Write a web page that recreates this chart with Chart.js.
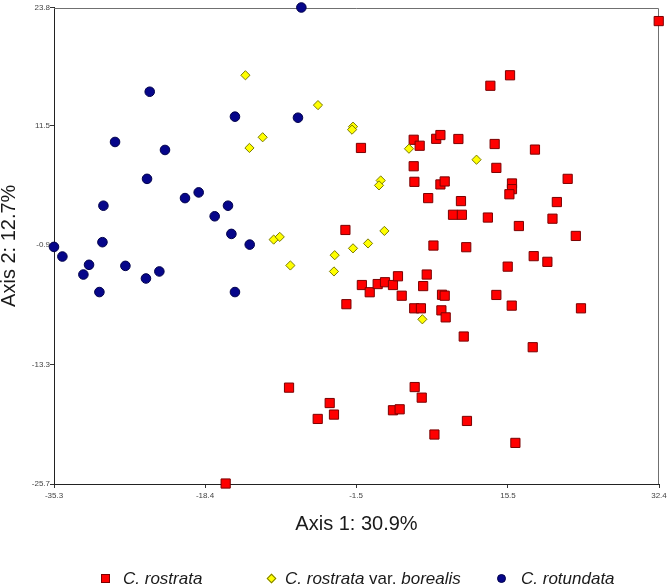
<!DOCTYPE html>
<html>
<head>
<meta charset="utf-8">
<title>Axis 1 / Axis 2 ordination</title>
<script src="https://cdn.jsdelivr.net/npm/chart.js@4/dist/chart.umd.min.js"></script>
<style>
    html, body { margin: 0; padding: 0; background: #fff; }
    #wrap { position: relative; width: 667px; height: 587px; overflow: hidden; }
    #chart { position: absolute; left: 0; top: 0; }
    .lg-text {
        position: absolute;
        top: 570px;
        font: italic 17px "Liberation Sans", Arial, sans-serif;
        line-height: 17px;
        color: #1a1a1a;
        white-space: nowrap;
    }
    .lg-text .up { font-style: normal; }
    .mk { position: absolute; box-sizing: border-box; }
    .mk--sq { left: 101px; top: 574px; width: 9px; height: 9px; background: #ff0000; border: 1px solid #7b0000; }
    .mk--dia { left: 268px; top: 575px; width: 7px; height: 7px; background: #ffff00; border: 1px solid #7a7a00; transform: rotate(45deg); }
    .mk--dot { left: 497px; top: 574px; width: 9px; height: 9px; background: #06068a; border: 1px solid #00004a; border-radius: 50%; }
</style>
</head>
<body>
<div id="wrap">
    <canvas id="chart" width="667" height="587"></canvas>
    <span class="mk mk--sq"></span>
    <span class="lg-text" style="left:123px">C. rostrata</span>
    <span class="mk mk--dia"></span>
    <span class="lg-text" style="left:285px">C. rostrata <span class="up">var.</span> borealis</span>
    <span class="mk mk--dot"></span>
    <span class="lg-text" style="left:521px">C. rotundata</span>
</div>
<script>
(function () {
    "use strict";

    // axis ticks as printed on the plot
    const xTicks = [-35.3, -18.4, -1.5, 15.5, 32.4];
    const yTicks = [-25.7, -13.3, -0.9, 11.5, 23.8];

    // C. rostrata (red squares)
    const rostrata = [
        [32.37, 22.39], [15.73, 16.76], [13.53, 15.67], [4.95, 10.06], [5.62, 9.44],
        [7.47, 10.16], [7.94, 10.55], [9.95, 10.14], [14.01, 9.62], [18.52, 9.04],
        [-0.95, 9.21], [4.95, 7.31], [14.20, 7.14], [22.18, 6.00], [5.03, 5.69],
        [7.94, 5.42], [8.42, 5.73], [15.95, 5.52], [15.95, 4.93], [15.66, 4.40],
        [6.57, 4.00], [10.24, 3.69], [20.97, 3.59], [9.35, 2.27], [10.34, 2.27],
        [13.25, 1.98], [20.48, 1.86], [16.72, 1.10], [-2.69, 0.69], [23.09, 0.07],
        [7.16, -0.93], [10.83, -1.10], [15.47, -3.12], [18.38, -2.03], [19.91, -2.62],
        [-0.85, -5.03], [0.03, -5.78], [0.92, -4.93], [1.74, -4.74], [2.63, -5.03],
        [3.19, -4.12], [3.61, -6.14], [6.41, -3.94], [6.01, -5.14], [8.12, -6.04],
        [8.42, -6.14], [14.20, -6.06], [15.92, -7.17], [23.67, -7.45], [-2.58, -7.02],
        [5.01, -7.45], [5.76, -7.45], [8.05, -7.66], [8.53, -8.39], [10.55, -10.38],
        [18.27, -11.49], [5.06, -15.63], [5.85, -16.73], [-9.00, -15.69], [-4.45, -17.29],
        [-5.79, -18.94], [-3.97, -18.49], [2.63, -18.04], [3.38, -17.94], [10.91, -19.15],
        [7.27, -20.56], [16.33, -21.43], [-16.09, -25.65]
    ];

    // C. rostrata var. borealis (yellow diamonds)
    const borealis = [
        [-13.88, 16.76], [-5.76, 13.66], [-11.95, 10.32], [-13.43, 9.21], [-10.72, -0.31],
        [-10.04, -0.03], [-8.85, -3.00], [-3.89, -1.93], [-3.97, -3.62], [-1.84, 11.42],
        [-1.95, 11.11], [4.42, 9.13], [11.98, 7.99], [1.26, 5.83], [1.07, 5.32],
        [1.67, 0.59], [-0.16, -0.71], [-1.84, -1.22], [5.92, -8.59]
    ];

    // C. rotundata (blue circles)
    const rotundata = [
        [-7.62, 23.80], [-24.59, 15.05], [-15.05, 12.46], [-8.00, 12.35], [-28.47, 9.83],
        [-22.88, 9.00], [-24.89, 6.00], [-20.64, 4.00], [-19.11, 4.59], [-29.77, 3.21],
        [-15.83, 3.21], [-17.32, 2.11], [-15.45, 0.28], [-13.40, -0.83], [-29.88, -0.58],
        [-35.30, -1.07], [-34.36, -2.07], [-31.38, -2.93], [-32.01, -3.94], [-27.31, -3.04],
        [-30.22, -5.76], [-25.01, -4.35], [-23.51, -3.62], [-15.05, -5.76]
    ];

    const FONT = '"Liberation Sans", Arial, sans-serif';

    function toPoints(pairs) {
        return pairs.map(function (p) { return { x: p[0], y: p[1] }; });
    }

    // grey frame on the top and right sides of the plot area
    const framePlugin = {
        id: "frame",
        beforeDatasetsDraw: function (chart) {
            const a = chart.chartArea;
            const ctx = chart.ctx;
            const top = Math.round(a.top) + 0.5;
            const right = Math.round(a.right) - 0.5;
            ctx.save();
            ctx.strokeStyle = "#707070";
            ctx.lineWidth = 1;
            ctx.beginPath();
            ctx.moveTo(a.left, top);
            ctx.lineTo(right, top);
            ctx.lineTo(right, a.bottom);
            ctx.stroke();
            ctx.restore();
        },
    };

    function axis(ticks, min, max, title, isX) {
        return {
            type: "linear",
            min: min,
            max: max,
            afterBuildTicks: function (s) {
                s.ticks = ticks.map(function (v) { return { value: v }; });
            },
            afterFit: function (s) {
                if (isX) {
                    s.height = 103;
                    s.paddingLeft = 0;
                    s.paddingRight = 0;
                } else {
                    s.width = 54;
                    s.paddingTop = 0;
                    s.paddingBottom = 0;
                }
            },
            grid: { drawOnChartArea: false, drawTicks: true, tickLength: 4, tickColor: "#333", color: "#333" },
            border: { display: true, color: "#222", width: 1 },
            ticks: {
                autoSkip: false,
                maxRotation: 0,
                padding: isX ? 3 : 0,
                color: "#444",
                font: { family: FONT, size: 8 },
                callback: function (v) { return Number(v).toFixed(1); },
            },
            title: {
                display: true,
                text: title,
                color: "#1a1a1a",
                font: { family: FONT, size: 20, lineHeight: 0.9 },
                padding: isX ? { top: 0, bottom: 53.5 } : { top: 0, bottom: 0 },
            },
        };
    }

    function initChart() {
        const canvas = document.getElementById("chart");
        new Chart(canvas.getContext("2d"), {
            type: "scatter",
            data: {
                datasets: [
                    {
                        label: "C. rostrata var. borealis",
                        data: toPoints(borealis),
                        pointStyle: "rectRot",
                        pointRadius: 4.6,
                        backgroundColor: "#ffff00",
                        borderColor: "#7a7a00",
                        borderWidth: 1,
                        clip: false,
                        order: 0,
                    },
                    {
                        label: "C. rostrata",
                        data: toPoints(rostrata),
                        pointStyle: "rect",
                        pointRadius: 6.5,
                        backgroundColor: "#ff0000",
                        borderColor: "#7b0000",
                        borderWidth: 1,
                        clip: false,
                        order: 1,
                    },
                    {
                        label: "C. rotundata",
                        data: toPoints(rotundata),
                        pointStyle: "circle",
                        pointRadius: 4.8,
                        backgroundColor: "#06068a",
                        borderColor: "#00004a",
                        borderWidth: 1,
                        clip: false,
                        order: 2,
                    },
                ],
            },
            options: {
                responsive: false,
                animation: false,
                events: [],
                layout: { padding: { left: 0, right: 8, top: 6, bottom: 0 } },
                plugins: {
                    legend: { display: false },
                    tooltip: { enabled: false },
                },
                scales: {
                    x: axis(xTicks, -35.3, 32.4, "Axis 1: 30.9%", true),
                    y: axis(yTicks, -25.7, 23.8, "Axis 2: 12.7%", false),
                },
            },
            plugins: [framePlugin],
        });
    }

    document.addEventListener("DOMContentLoaded", initChart);
})();
</script>
</body>
</html>
